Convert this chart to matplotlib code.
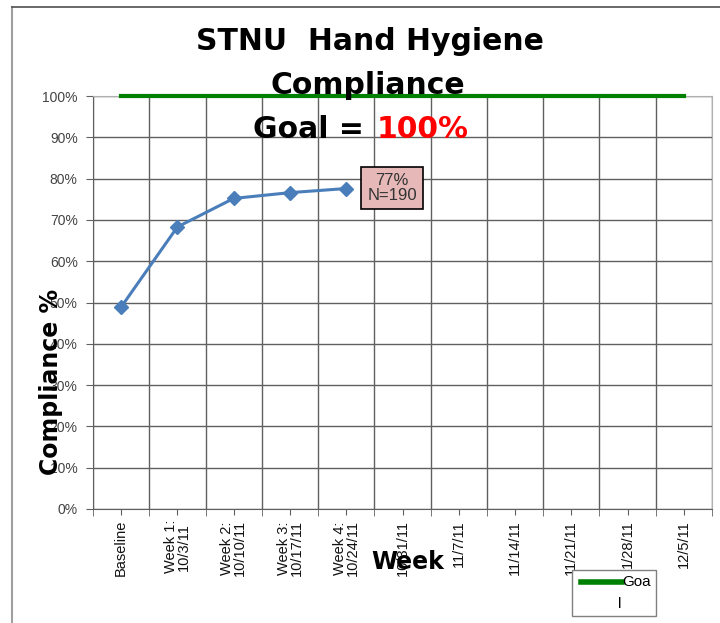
import matplotlib
matplotlib.use("Agg")
import matplotlib.pyplot as plt
from matplotlib.lines import Line2D
from matplotlib.patches import Rectangle
import numpy as np

categories = ["Baseline", "Week 1:\n10/3/11", "Week 2:\n10/10/11", "Week 3:\n10/17/11",
              "Week 4:\n10/24/11", "10/31/11", "11/7/11", "11/14/11", "11/21/11",
              "1/28/11", "12/5/11"]
compliance = [0.489, 0.683, 0.752, 0.766, 0.776]
goal = [1.0] * len(categories)
y_ticks = [0.0, 0.1, 0.2, 0.3, 0.4, 0.5, 0.6, 0.7, 0.8, 0.9, 1.0]
y_tick_labels = ["0%", "10%", "20%", "30%", "40%", "50%", "60%", "70%", "80%", "90%", "100%"]
annotation_text = "77%\nN=190"
legend_label = ["Goa", "l"]

W, H = 720, 623
fig = plt.figure(figsize=(W / 100, H / 100), dpi=100)
ax = fig.add_axes([93 / W, 1 - 509 / H, (712 - 93) / W, (509 - 96) / H])

x = np.arange(len(categories))
ax.set_xlim(-0.5, len(categories) - 0.5)
ax.set_ylim(0, 1)

# grid
ax.set_xticks(np.arange(-0.5, len(categories), 1.0), minor=True)
ax.set_xticks(x)
ax.set_xticklabels(categories, rotation=90, fontsize=10.5, family="Liberation Sans",
                   va="top", ha="center", linespacing=0.9, color="#111111")
ax.set_yticks(y_ticks)
ax.set_yticklabels(y_tick_labels, fontsize=10, family="Liberation Sans", color="#444444")
ax.grid(which="minor", axis="x", color="#606060", linewidth=1.0)
ax.grid(which="major", axis="y", color="#606060", linewidth=1.0)
ax.tick_params(axis="x", which="major", length=4, color="#606060", pad=4)
ax.tick_params(axis="x", which="minor", length=5, color="#606060")
ax.tick_params(axis="y", which="major", length=5, color="#606060", pad=6)
ax.set_axisbelow(True)
for s in ["left", "bottom"]:
    ax.spines[s].set_color("#606060")
for s in ["top", "right"]:
    ax.spines[s].set_color("#b0b0b0")

# goal line
ax.plot(x, goal, color="#008000", linewidth=3, clip_on=False, zorder=4)
# compliance series
ax.plot(x[:len(compliance)], compliance, color="#4A7EBB", linewidth=2.2, marker="D",
        markersize=7, zorder=5)

# annotation box
ax.annotate(annotation_text, xy=(x[len(compliance) - 1], compliance[-1]),
            xytext=(392, 623 - 188), textcoords="figure pixels",
            ha="center", va="center", fontsize=12, family="Liberation Sans", color="#333333",
            linespacing=1.0,
            bbox=dict(boxstyle="square,pad=0.35", facecolor="#E6B9B8", edgecolor="black", linewidth=1.2))

# titles
tfont = dict(fontsize=21.5, fontweight="heavy", family="DejaVu Sans", color="black")
fig.text(370 / W, 1 - 42 / H, "STNU  Hand Hygiene", ha="center", va="center", **tfont)
fig.text(368 / W, 1 - 86 / H, "Compliance", ha="center", va="center", **tfont)
fig.text(374 / W, 1 - 129 / H, "Goal = ", ha="right", va="center", **tfont)
fig.text(377 / W, 1 - 129 / H, "100%", ha="left", va="center",
         fontsize=21.5, fontweight="heavy", family="DejaVu Sans", color="#ff0000")

fig.text(51 / W, 1 - 382 / H, "Compliance %", rotation=90, ha="center", va="center",
         fontsize=17, fontweight="bold", family="DejaVu Sans")
fig.text(408 / W, 1 - 562 / H, "Week", ha="center", va="center",
         fontsize=17, fontweight="bold", family="DejaVu Sans")

# legend (drawn manually to match layout)
fig.add_artist(Rectangle((572 / W, 1 - 616 / H), 84 / W, 46 / H, transform=fig.transFigure,
                         facecolor="white", edgecolor="#808080", linewidth=1.0, zorder=6))
fig.add_artist(Line2D([581 / W, 622 / W], [1 - 582 / H, 1 - 582 / H], color="#008000",
                      linewidth=4, transform=fig.transFigure, zorder=7))
fig.text(622 / W, 1 - 582 / H, legend_label[0], ha="left", va="center", fontsize=11,
         family="Liberation Sans", zorder=7)
fig.text(620 / W, 1 - 604 / H, legend_label[1], ha="center", va="center", fontsize=11,
         family="Liberation Sans", zorder=7)

# outer frame edges
fig.add_artist(Line2D([12 / W, 12 / W], [0, 1 - 7 / H], color="#a0a0a0", linewidth=1.5,
                      transform=fig.transFigure))
fig.add_artist(Line2D([12 / W, 1], [1 - 7 / H, 1 - 7 / H], color="#505050", linewidth=1.2,
                      transform=fig.transFigure))

fig.savefig("out.png", dpi=100)
